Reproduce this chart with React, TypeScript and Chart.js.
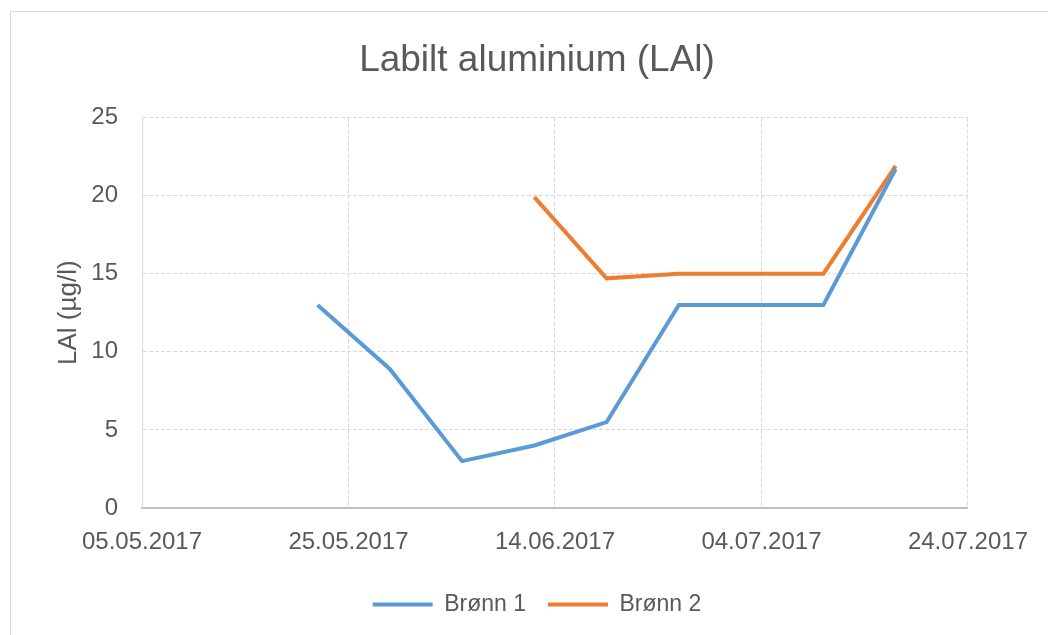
import React, { useEffect, useRef } from 'react';
import { Chart, registerables } from 'chart.js';

Chart.register(...registerables);

// ---- Data ----
const chartTitle = 'Labilt aluminium (LAl)';
const yAxisTitle = 'LAl (µg/l)';
const sampleDates = ['22.05.2017', '29.05.2017', '05.06.2017', '12.06.2017', '19.06.2017', '26.06.2017', '03.07.2017', '10.07.2017', '17.07.2017'];
const bronn1 = [13.0, 8.9, 3.0, 4.0, 5.5, 13.0, 13.0, 13.0, 21.7];
const bronn2 = [null, null, null, 19.9, 14.7, 15.0, 15.0, 15.0, 21.9];
const seriesNames = ['Brønn 1', 'Brønn 2'];
const xTickDates = ['05.05.2017', '25.05.2017', '14.06.2017', '04.07.2017', '24.07.2017'];
const yTicks = [0, 5, 10, 15, 20, 25];

const BASE = Date.UTC(2017, 4, 5);
const DAY = 86400000;
function toDay(s: string): number {
  const [d, m, y] = s.split('.').map(Number);
  return (Date.UTC(y, m - 1, d) - BASE) / DAY;
}
function fromDay(n: number): string {
  const t = new Date(BASE + Math.round(n) * DAY);
  const dd = String(t.getUTCDate()).padStart(2, '0');
  const mm = String(t.getUTCMonth() + 1).padStart(2, '0');
  return `${dd}.${mm}.${t.getUTCFullYear()}`;
}

const FONT = "'Liberation Sans', Arial, sans-serif";
const TEXT = '#595959';

const framePlugin = {
  id: 'frame',
  beforeDraw(chart: any) {
    const { ctx, width, height } = chart;
    ctx.save();
    ctx.fillStyle = '#ffffff';
    ctx.fillRect(0, 0, width, height);
    ctx.strokeStyle = '#d9d9d9';
    ctx.lineWidth = 1;
    ctx.strokeRect(10.5, 11.5, width + 50, height + 50);
    ctx.restore();
  },
};

export default function App() {
  const ref = useRef<HTMLCanvasElement | null>(null);
  useEffect(() => {
    if (!ref.current) return;
    const toPoints = (vals: (number | null)[]) =>
      sampleDates.map((d, i) => ({ x: toDay(d), y: vals[i] })).filter((p) => p.y !== null);
    const chart = new Chart(ref.current, {
      type: 'line',
      data: {
        datasets: [
          {
            label: seriesNames[0],
            data: toPoints(bronn1) as any,
            borderColor: '#5B9BD5',
            backgroundColor: '#5B9BD5',
            borderWidth: 4,
            pointRadius: 0,
            tension: 0,
          },
          {
            label: seriesNames[1],
            data: toPoints(bronn2) as any,
            borderColor: '#ED7D31',
            backgroundColor: '#ED7D31',
            borderWidth: 4,
            pointRadius: 0,
            tension: 0,
          },
        ],
      },
      options: {
        animation: false,
        responsive: false,
        maintainAspectRatio: false,
        layout: { padding: { left: 30, right: 4, top: 11, bottom: 9 } },
        plugins: {
          title: {
            display: true,
            text: chartTitle,
            color: TEXT,
            font: { family: FONT, size: 37, weight: 'normal' },
            padding: { top: 28, bottom: 34 },
          },
          legend: {
            display: true,
            position: 'bottom',
            labels: {
              color: TEXT,
              font: { family: FONT, size: 23 },
              usePointStyle: true,
              pointStyle: 'line',
              pointStyleWidth: 60,
              padding: 22,
            },
          },
          tooltip: { enabled: false },
        },
        scales: {
          x: {
            type: 'linear',
            min: toDay(xTickDates[0]),
            max: toDay(xTickDates[xTickDates.length - 1]),
            afterBuildTicks: (scale: any) => {
              scale.ticks = xTickDates.map((d) => ({ value: toDay(d) }));
            },
            afterFit: (scale: any) => {
              scale.height = 63;
            },
            ticks: {
              color: TEXT,
              font: { family: FONT, size: 24 },
              padding: 20,
              maxRotation: 0,
              autoSkip: false,
              callback: (v: any) => fromDay(Number(v)),
            },
            grid: {
              color: '#d9d9d9',
              lineWidth: 1,
              drawTicks: false,
            },
            border: { display: true, color: '#bfbfbf', width: 2, dash: [4, 2] },
          },
          y: {
            type: 'linear',
            min: yTicks[0],
            max: yTicks[yTicks.length - 1],
            afterBuildTicks: (scale: any) => {
              scale.ticks = yTicks.map((v) => ({ value: v }));
            },
            afterFit: (scale: any) => {
              scale.width = 112;
            },
            ticks: {
              color: TEXT,
              font: { family: FONT, size: 24 },
              padding: 24,
            },
            grid: {
              color: '#d9d9d9',
              lineWidth: 1,
              drawTicks: false,
            },
            border: { display: true, color: '#d9d9d9', width: 1, dash: [4, 2] },
            title: {
              display: true,
              text: yAxisTitle,
              color: TEXT,
              font: { family: FONT, size: 26 },
              padding: { top: 23, bottom: 0 },
            },
          },
          y2: {
            type: 'linear',
            position: 'right',
            display: true,
            ticks: { display: false },
            grid: { display: false, drawTicks: false },
            border: { display: false },
            afterFit: (scale: any) => {
              scale.width = 75;
            },
          },
        },
      },
      plugins: [framePlugin],
    });
    return () => chart.destroy();
  }, []);

  return (
    <div style={{ position: 'fixed', left: 0, top: 0, width: 1048, height: 635 }}>
      <canvas ref={ref} width={1048} height={635} style={{ width: 1048, height: 635, display: 'block' }} />
    </div>
  );
}
